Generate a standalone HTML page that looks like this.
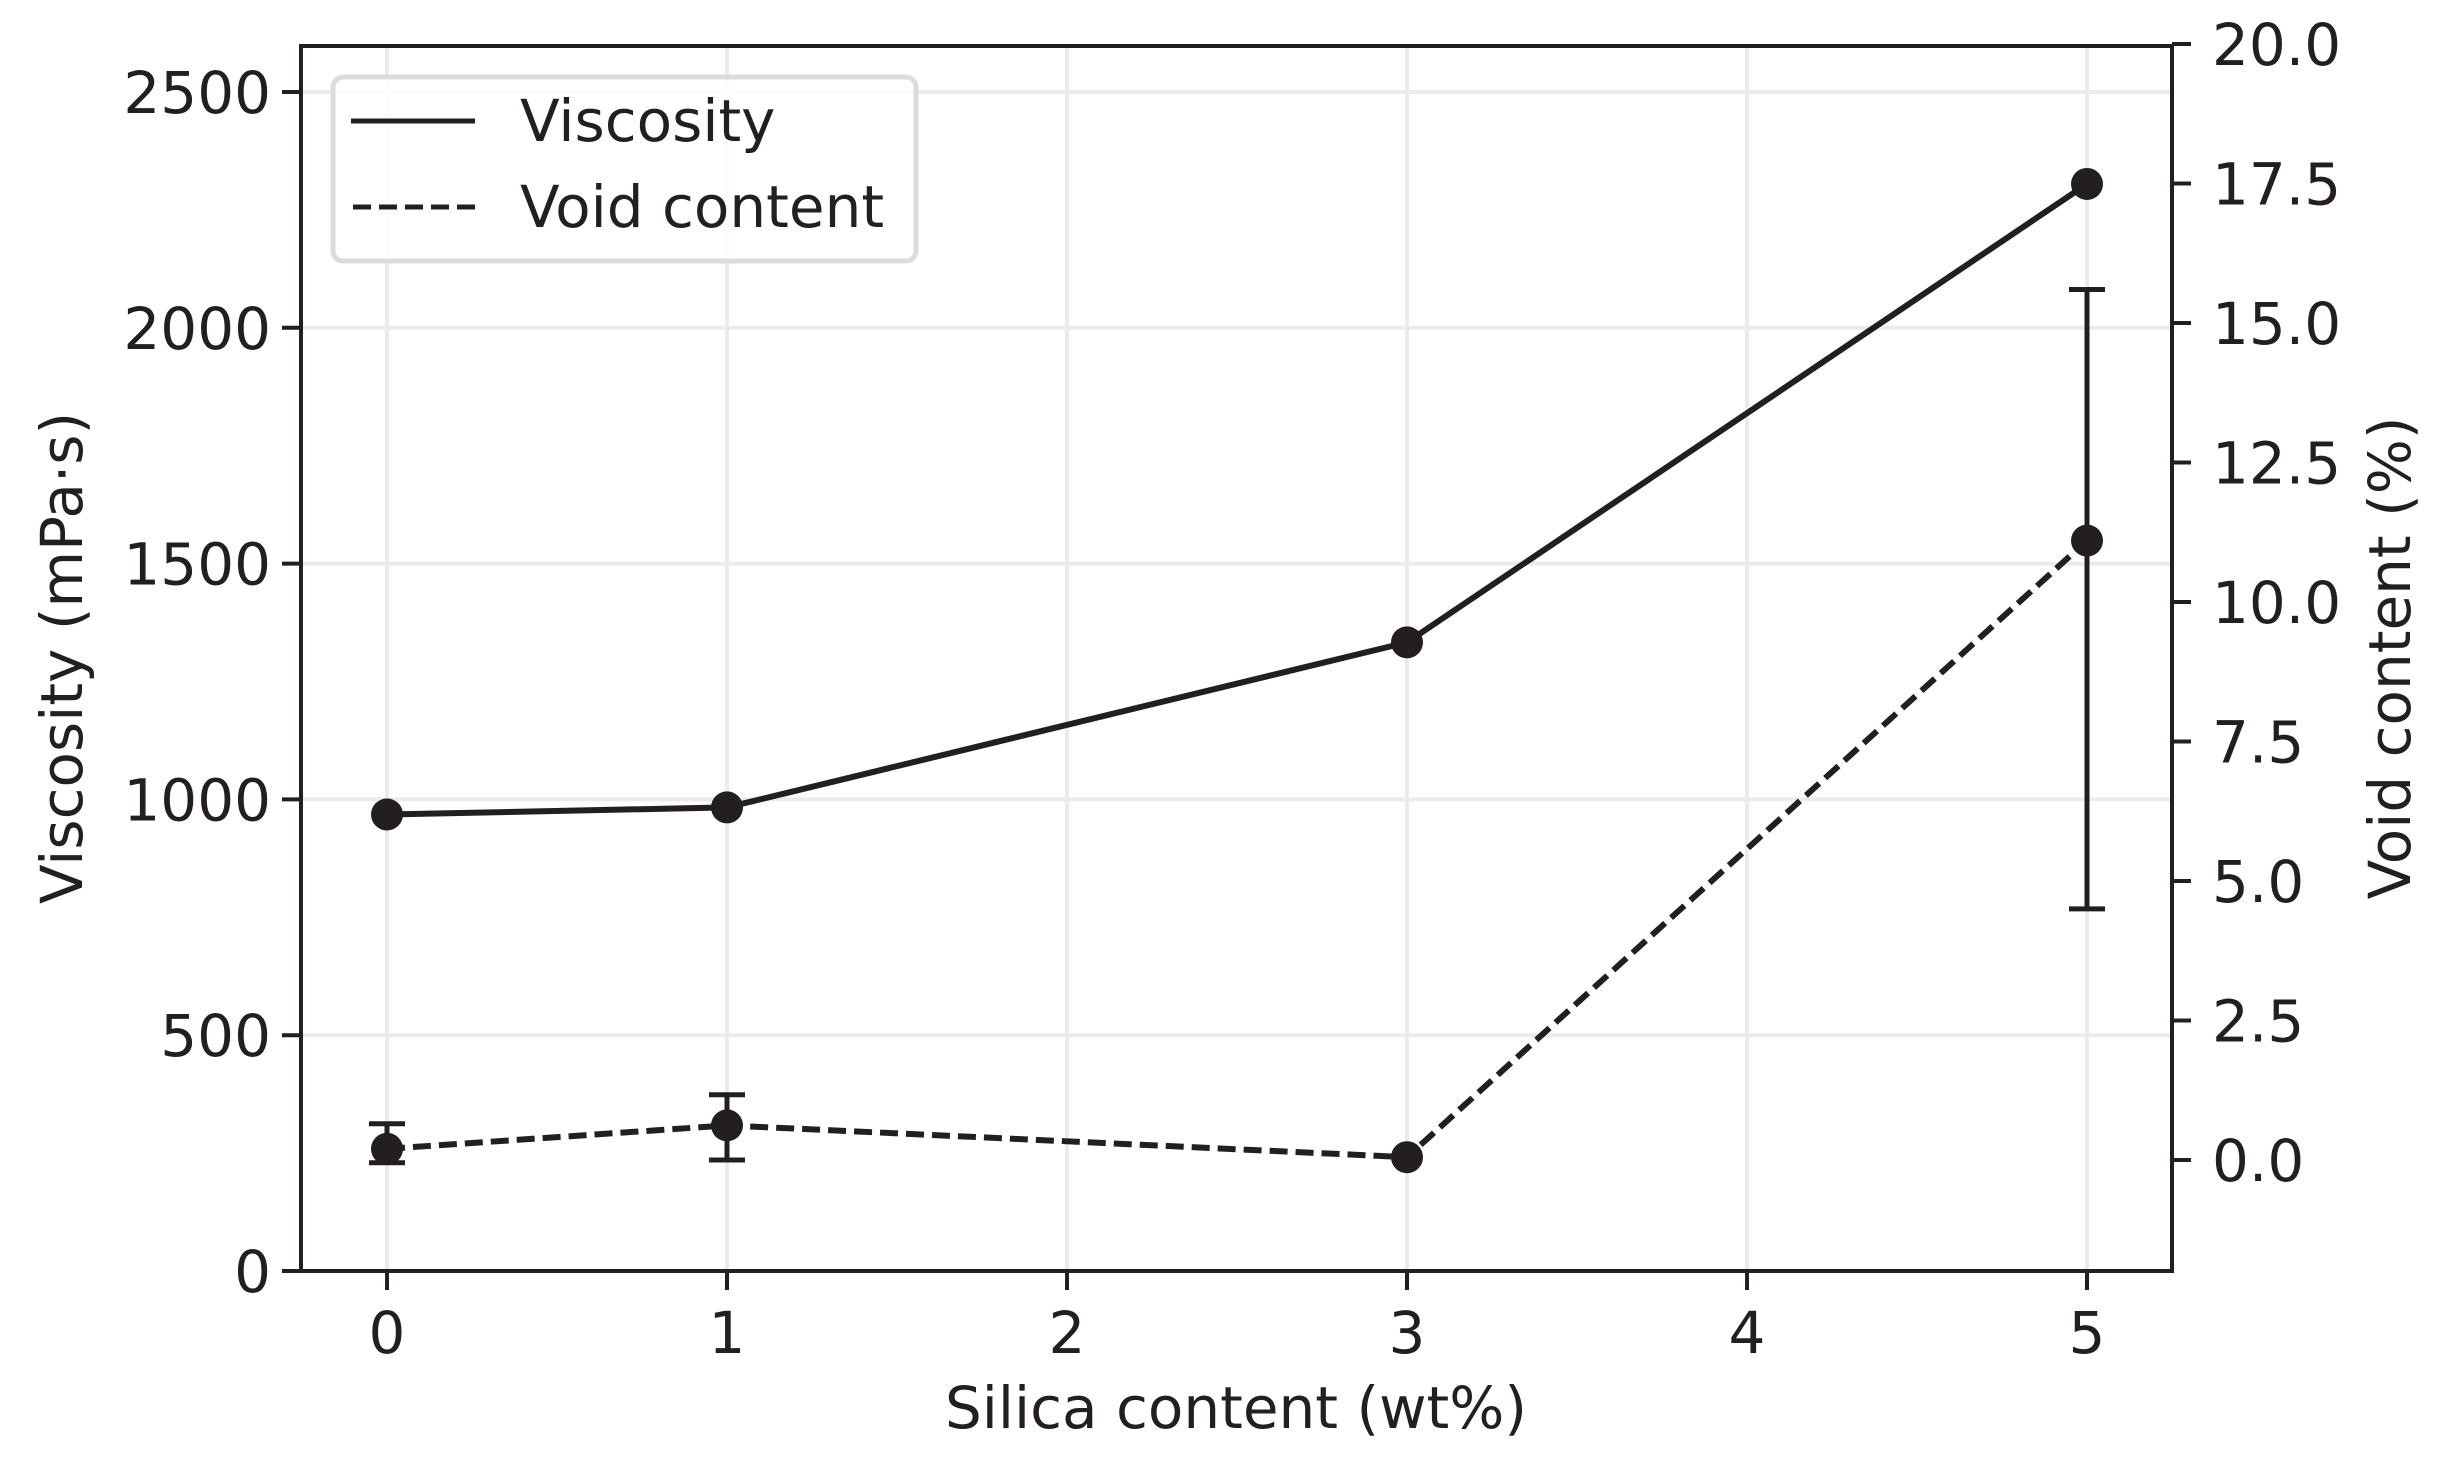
<!DOCTYPE html>
<html><head><meta charset="utf-8"><style>
html,body{margin:0;padding:0;background:#fff}
svg{display:block}
text{font-family:"DejaVu Sans","Liberation Sans",sans-serif;fill:#231f20}
</style></head><body>
<svg id="chart" width="2464" height="1472" viewBox="0 0 2464 1472" xmlns="http://www.w3.org/2000/svg">
<g id="grid"></g>
<g id="series"></g>
<rect x="301" y="46" width="1871" height="1225" fill="none" stroke="#231f20" stroke-width="4"/>
<g id="axes"></g>
<text x="1236" y="1428" font-size="58" text-anchor="middle">Silica content (wt%)</text>
<text transform="translate(82,658) rotate(-90)" font-size="58" text-anchor="middle">Viscosity (mPa·s)</text>
<text transform="translate(2410,658) rotate(-90)" font-size="58" text-anchor="middle">Void content (%)</text>
<g>
<rect x="333" y="77" width="583" height="184" rx="10" fill="#fff" fill-opacity="0.85" stroke="#dcdcdc" stroke-width="5"/>
<line x1="351" y1="121" x2="475" y2="121" stroke="#231f20" stroke-width="5"/>
<text x="520" y="141" font-size="58">Viscosity</text>
<line x1="353" y1="207" x2="475" y2="207" stroke="#231f20" stroke-width="5" stroke-dasharray="18,8"/>
<text x="520" y="227" font-size="58">Void content</text>
</g>
</svg>
<script>
const silica = [0, 1, 3, 5];
const viscosity = [968, 983, 1333, 2305];
const voidContent = [0.2, 0.62, 0.05, 11.1];
const voidErrHigh = [0.45, 0.55, 0, 4.5];
const voidErrLow = [0.25, 0.62, 0, 6.6];
const xTicks = [0, 1, 2, 3, 4, 5];
const leftTicks = [0, 500, 1000, 1500, 2000, 2500];
const rightTicks = [0.0, 2.5, 5.0, 7.5, 10.0, 12.5, 15.0, 17.5, 20.0];

const NS = "http://www.w3.org/2000/svg";
const X0 = 301, X1 = 2172, Y0 = 1271, Y1 = 46;
const xS = v => 387 + v * 340;
const yL = v => 1271 - v * 0.4716;
const yR = v => 1160 - v * 55.8;
function mk(tag, attrs, parent) {
  const e = document.createElementNS(NS, tag);
  for (const k in attrs) e.setAttribute(k, attrs[k]);
  parent.appendChild(e);
  return e;
}
const grid = document.getElementById('grid');
const axes = document.getElementById('axes');
const series = document.getElementById('series');

xTicks.forEach(t => {
  const g = mk('line', {x1: xS(t), x2: xS(t), y1: Y1, y2: Y0, stroke: '#ebebeb', 'stroke-width': 4}, grid);
  
  
  const tk = mk('line', {x1: xS(t), x2: xS(t), y1: Y0, y2: Y0 + 19, stroke: '#231f20', 'stroke-width': 4}, axes);
  
  
  const tx = mk('text', {x: xS(t), y: 1353, 'font-size': 58, 'text-anchor': 'middle'}, axes);
  tx.textContent = String(t);
  
  
});
leftTicks.forEach(t => {
  const g = mk('line', {x1: X0, x2: X1, y1: yL(t), y2: yL(t), stroke: '#ebebeb', 'stroke-width': 4}, grid);
  
  
  const tk = mk('line', {x1: X0 - 19, x2: X0, y1: yL(t), y2: yL(t), stroke: '#231f20', 'stroke-width': 4}, axes);
  
  
  const tx = mk('text', {x: X0 - 30, y: yL(t) + 21, 'font-size': 58, 'text-anchor': 'end'}, axes);
  tx.textContent = String(t);
  
  
});
rightTicks.forEach(t => {
  const tk = mk('line', {x1: X1, x2: X1 + 19, y1: yR(t), y2: yR(t), stroke: '#231f20', 'stroke-width': 4}, axes);
  
  
  const tx = mk('text', {x: X1 + 40, y: yR(t) + 21, 'font-size': 58}, axes);
  tx.textContent = t.toFixed(1);
  
  
});

const vl = mk('polyline', {points: silica.map((s, i) => xS(s) + ',' + yL(viscosity[i])).join(' '), fill: 'none', stroke: '#231f20', 'stroke-width': 6}, series);


const dl = mk('polyline', {points: silica.map((s, i) => xS(s) + ',' + yR(voidContent[i])).join(' '), fill: 'none', stroke: '#231f20', 'stroke-width': 6, 'stroke-dasharray': '18,8'}, series);



silica.forEach((s, i) => {
  if (voidErrHigh[i] > 0 || voidErrLow[i] > 0) {
    const x = xS(s), yt = yR(voidContent[i] + voidErrHigh[i]), yb = yR(voidContent[i] - voidErrLow[i]);
    const b = mk('path', {d: `M${x},${yt}V${yb}M${x-18},${yt}H${x+18}M${x-18},${yb}H${x+18}`, stroke: '#231f20', 'stroke-width': 5, fill: 'none'}, series);
    
    
  }
  const m1 = mk('circle', {cx: xS(s), cy: yL(viscosity[i]), r: 16, fill: '#231f20'}, series);
  
  
  const m2 = mk('circle', {cx: xS(s), cy: yR(voidContent[i]), r: 16, fill: '#231f20'}, series);
  
  
});
</script>
</body></html>
